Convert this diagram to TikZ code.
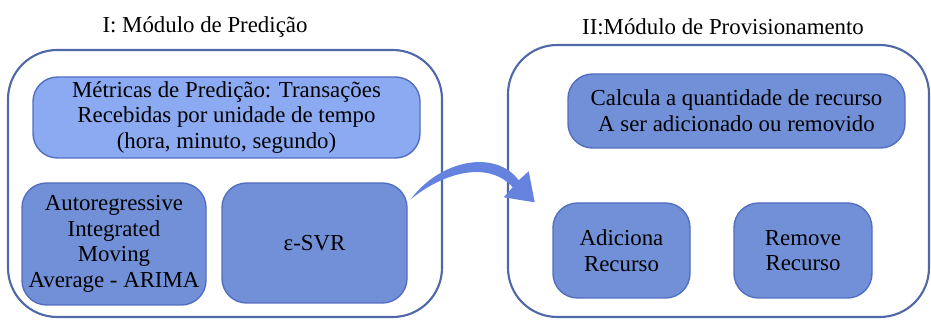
\documentclass[tikz,border=0pt]{standalone}
\usepackage{fontspec}
\setmainfont{Liberation Serif}
\usetikzlibrary{arrows.meta, positioning, calc}
\definecolor{frameblue}{RGB}{78, 104, 168}
\definecolor{lightfill}{RGB}{140, 170, 242}
\definecolor{darkfill}{RGB}{114, 144, 216}
\definecolor{edgeblue}{RGB}{82, 110, 192}
\definecolor{arrowblue}{RGB}{100, 130, 222}

\begin{document}
\begin{tikzpicture}[x=0.02cm, y=-0.02cm,
    font=\fontsize{13}{14.6}\selectfont,
    module/.style={draw=frameblue, line width=1.2pt, rounded corners=28, fill=white},
    lightbox/.style={draw=edgeblue, line width=0.8pt, fill=lightfill, rounded corners=14, align=center, inner sep=0pt},
    darkbox/.style={draw=edgeblue, line width=0.8pt, fill=darkfill, rounded corners=14, align=center, inner sep=0pt},
    title/.style={font=\fontsize{13}{15}\selectfont}]
    \useasboundingbox (0,0) rectangle (931,320);
    % module frames
    \draw[module] (8,50) rectangle (442,317);
    \draw[module] (508,45) rectangle (929,317);
    \node[title] (tpred) at (205,27) {I: Módulo de Predição};
    \node[title] (tprov) at (723,27) {II:Módulo de Provisionamento};
    % prediction module
    \node[lightbox, minimum width=387*0.02cm, minimum height=81*0.02cm] (metric) at (226.5,117.5)
        {Métricas de Predição: Transações\\Recebidas por unidade de tempo\\(hora, minuto, segundo)};
    \node[darkbox, minimum width=184*0.02cm, minimum height=122*0.02cm] (arima) at (114,244)
        {Autoregressive\\Integrated\\Moving\\Average - ARIMA};
    \node[darkbox, minimum width=185*0.02cm, minimum height=120*0.02cm] (svr) at (314.5,243) {ε-SVR};
    % provisioning module
    \node[darkbox, minimum width=337*0.02cm, minimum height=74*0.02cm] (calc) at (736.5,111)
        {Calcula a quantidade de recurso\\A ser adicionado ou removido};
    \node[darkbox, minimum width=137*0.02cm, minimum height=95*0.02cm] (add) at (621.5,250.5) {Adiciona\\Recurso};
    \node[darkbox, minimum width=138*0.02cm, minimum height=95*0.02cm] (rem) at (803,250.5) {Remove\\Recurso};
    % tapered connector svr -> add
    \coordinate (from) at ([xshift=0.06cm, yshift=-0.34cm]svr.north east);
    \fill[arrowblue] (from)
        .. controls ($(from)+(30,-40)$) and ($(from)+(85,-50)$) .. ($(from)+(108,-19)$)
        -- ($(from)+(118,-28)$) -- ($(from)+(124,3)$) -- ($(from)+(93,-2)$) -- ($(from)+(102,-12)$)
        .. controls ($(from)+(80,-37)$) and ($(from)+(37,-30)$) .. cycle;
\end{tikzpicture}
\end{document}
